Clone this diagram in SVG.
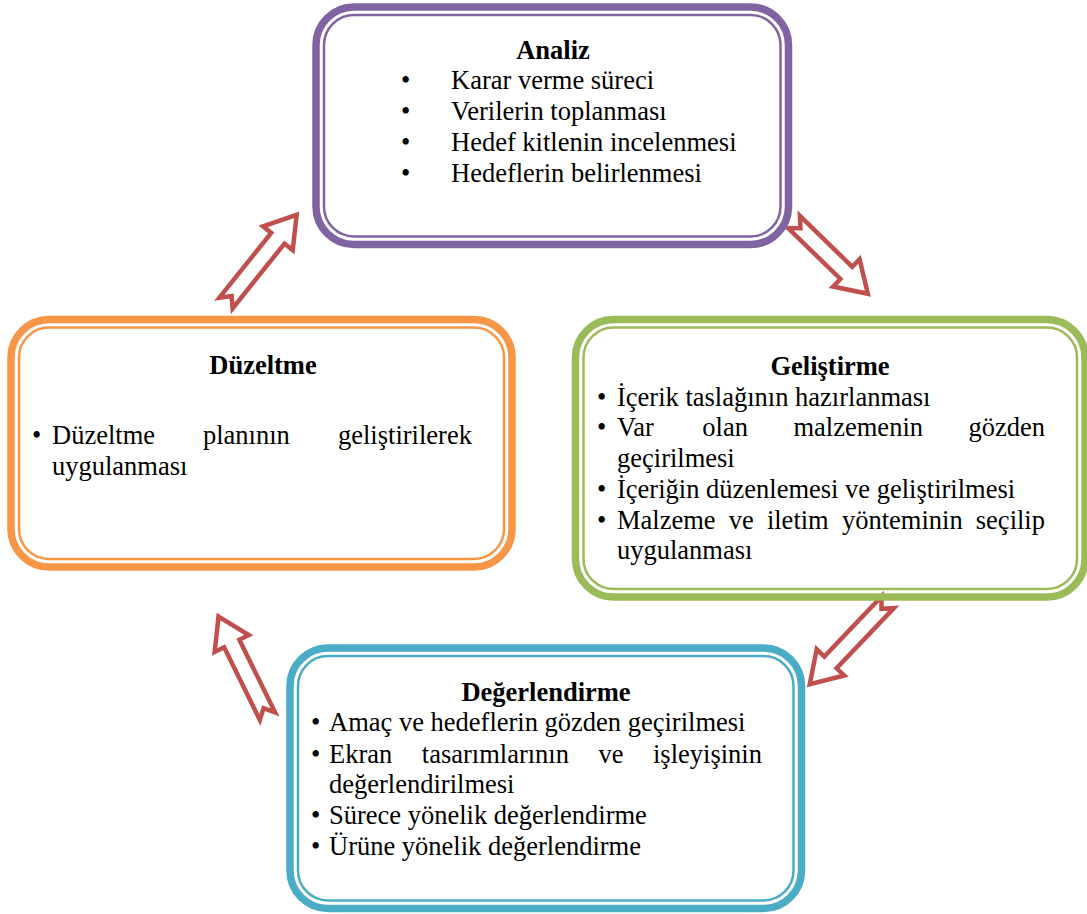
<svg xmlns="http://www.w3.org/2000/svg" width="1087" height="914" viewBox="0 0 1087 914">
<style>
text{font-family:"Liberation Serif","Times New Roman",serif;font-size:26.5px;fill:#000}
.t{font-weight:bold;text-anchor:middle}
.o{fill:none;stroke-width:7.5}
.i{fill:none;stroke-width:2.5}
.arr{fill:#fff;stroke:#C0504D;stroke-width:4.5;stroke-linejoin:miter}
</style>
<rect width="1087" height="914" fill="#fff"/>
<g id="connectors">
<path class="arr" transform="translate(226,303) rotate(-51.3)" d="M0,-8.5 H83 V-19 L113,0 L83,19 V8.5 H0 L9,0 Z"/>
<path class="arr" transform="translate(794,222) rotate(44.2)" d="M0,-8.5 H73 V-19 L103,0 L73,19 V8.5 H0 L9,0 Z"/>
<path class="arr" transform="translate(887.7,602.3) rotate(133.6)" d="M0,-8.5 H83 V-19 L113,0 L83,19 V8.5 H0 L9,0 Z"/>
<path class="arr" transform="translate(267.5,716.2) rotate(-116.2)" d="M0,-8.5 H81 V-19 L111,0 L81,19 V8.5 H0 L9,0 Z"/>
</g>
<g id="analiz">
<rect class="o" x="316" y="7" width="472.5" height="237.5" rx="38" stroke="#8064A2"/>
<rect class="i" x="324" y="15" width="456.5" height="221.5" rx="30" stroke="#8064A2"/>
<text class="t" x="553" y="59">Analiz</text>
<text x="401" y="89">•</text><text x="451" y="89">Karar verme süreci</text>
<text x="401" y="120">•</text><text x="451" y="120">Verilerin toplanması</text>
<text x="401" y="151">•</text><text x="451" y="151">Hedef kitlenin incelenmesi</text>
<text x="401" y="182">•</text><text x="451" y="182">Hedeflerin belirlenmesi</text>
</g>
<g id="gelistirme">
<rect class="o" x="575.5" y="319.5" width="509.5" height="277.5" rx="38" stroke="#9BBB59"/>
<rect class="i" x="583.5" y="327.5" width="493.5" height="261.5" rx="30" stroke="#9BBB59"/>
<text class="t" x="830" y="375">Geliştirme</text>
<text x="597" y="406">•</text><text x="617" y="406">İçerik taslağının hazırlanması</text>
<text x="597" y="436">•</text><text x="617" y="436">Var</text><text x="702.3" y="436">olan</text><text x="793.5" y="436">malzemenin</text><text x="968.6" y="436">gözden</text>
<text x="617" y="467">geçirilmesi</text>
<text x="597" y="498">•</text><text x="617" y="498">İçeriğin düzenlemesi ve geliştirilmesi</text>
<text x="597" y="529">•</text><text x="617" y="529">Malzeme</text><text x="728.8" y="529">ve</text><text x="766.9" y="529">iletim</text><text x="842" y="529">yönteminin</text><text x="975.8" y="529">seçilip</text>
<text x="617" y="559">uygulanması</text>
</g>
<g id="duzeltme">
<rect class="o" x="11" y="319.5" width="501" height="247.5" rx="38" stroke="#F79646"/>
<rect class="i" x="19" y="327.5" width="485" height="231.5" rx="30" stroke="#F79646"/>
<text class="t" x="263" y="374">Düzeltme</text>
<text x="32" y="444">•</text><text x="52" y="444">Düzeltme</text><text x="203" y="444">planının</text><text x="338" y="444">geliştirilerek</text>
<text x="52" y="475">uygulanması</text>
</g>
<g id="degerlendirme">
<rect class="o" x="290" y="648" width="511.5" height="260.5" rx="38" stroke="#4BACC6"/>
<rect class="i" x="298" y="656" width="495.5" height="244.5" rx="30" stroke="#4BACC6"/>
<text class="t" x="546" y="701">Değerlendirme</text>
<text x="311" y="731">•</text><text x="329" y="731">Amaç ve hedeflerin gözden geçirilmesi</text>
<text x="311" y="763">•</text><text x="329" y="763">Ekran</text><text x="421.8" y="763">tasarımlarının</text><text x="598.5" y="763">ve</text><text x="653" y="763">işleyişinin</text>
<text x="329" y="793">değerlendirilmesi</text>
<text x="311" y="824">•</text><text x="329" y="824">Sürece yönelik değerlendirme</text>
<text x="311" y="855">•</text><text x="329" y="855">Ürüne yönelik değerlendirme</text>
</g>
</svg>
